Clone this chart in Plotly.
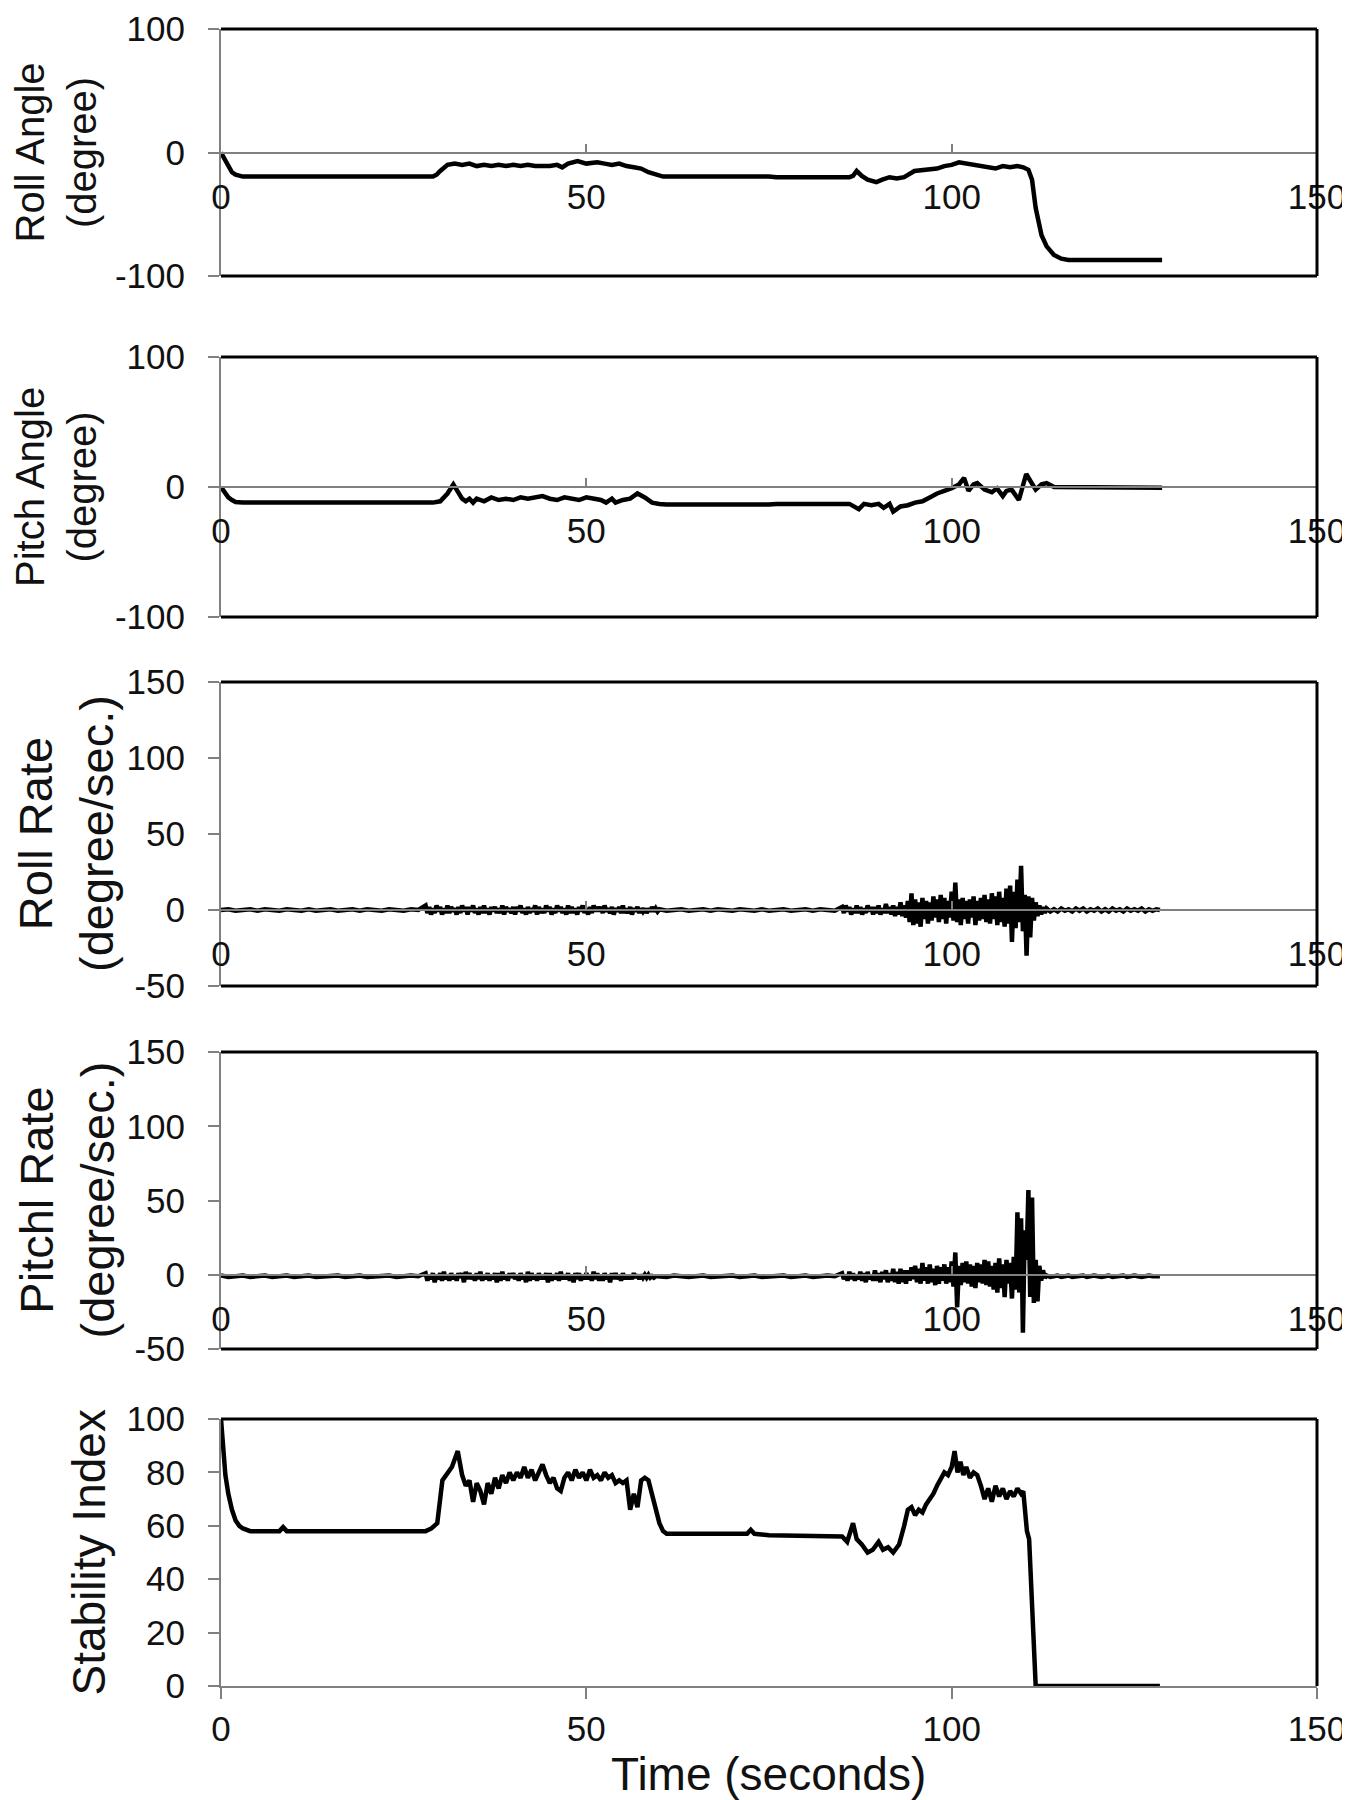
import plotly.graph_objects as go

# ---- values ----

# Roll angle (degree)
roll_t = [0, 0.5, 1, 1.5, 2, 2.5, 3, 29, 29.5, 30, 30.5, 31, 32, 33, 34, 35, 36, 37, 38, 39,
          40, 41, 42, 43, 44, 45, 46, 46.7, 47.5, 48.8, 50, 51.5, 52.5, 53.5, 54.5, 55.5, 56.5,
          57.5, 58.5, 59.5, 60.5, 75, 76, 86, 86.5, 87, 87.7, 88.5, 89.7, 90.5, 91.5, 92.5,
          93.5, 94.9, 96, 97, 98, 99, 100, 101, 102, 103, 104, 105, 106, 107, 108, 109, 109.8,
          110.5, 111, 111.5, 112.3, 113, 114, 115, 116, 128.8]
roll_v = [0, -6, -12, -16, -18, -19, -19.5, -19.5, -18, -15, -12, -10, -9, -10, -9, -11, -10, -11,
          -10, -11, -10, -11, -10, -11, -11, -11, -10, -12, -9, -7, -9, -8, -9, -10, -9, -11, -12,
          -13, -16, -18, -19.5, -19.5, -20, -20, -19, -15, -19, -22, -24, -22, -20, -21, -20, -15,
          -14, -13, -13, -11, -10, -8, -9, -10, -11, -12, -13, -11, -12, -11, -12, -14, -22, -45,
          -67, -76, -83, -86, -87, -87]

# Pitch angle (degree)
pitch_t = [0, 0.5, 1, 1.5, 2, 3, 29, 30, 31, 31.8, 32.5, 33, 33.5, 34, 34.5, 35, 36, 37, 38, 39,
           40, 41, 42, 43, 44, 45, 46, 47, 48, 49, 50, 51, 52, 52.7, 53.5, 54, 55, 56, 57, 58,
           59, 60, 61, 75, 76, 86, 87.3, 88, 89, 90, 90.7, 91.5, 92, 93, 94, 95, 96, 97, 98, 99,
           100, 101, 101.7, 102.3, 103, 103.5, 104.5, 105.5, 106.2, 107, 107.5, 108.2, 109.2,
           110.2, 110.8, 111.5, 112.3, 113, 114, 128.8]
pitch_v = [0, -4, -8, -10, -11.5, -12, -12, -11, -5, 2, -4, -9, -11, -9, -12, -9, -11, -8, -10,
           -9, -10, -8, -9, -8, -7, -9, -10, -8, -9, -10, -8, -9, -10, -12, -9, -12, -10, -9, -5,
           -8, -12, -13, -13.5, -13.5, -13, -13, -17, -13, -14, -13, -16, -13, -19, -15, -14,
           -12, -11, -8, -5, -3, -1, 2, 7, -3, 2, 3, -2, -4, -1, -7, -3, -2, -10, 10, 4, -2, 2, 3,
           0, -0.5, -0.5]


# Roll rate and pitch rate (degree/sec.) sampled on a common time grid
def grid(start, step, n):
    return [round(start + step * i, 2) for i in range(n)]


rate_t = (grid(0, 1, 28) + grid(28, 0.25, 128) + grid(60, 1, 25) + grid(85, 0.25, 36)
          + grid(94, 0.25, 76) + grid(113, 0.5, 32))

roll_rate_v = (
    # 0 - 27 s
    [0, 0.5, -0.5, 0, 0.5, -0.5, 0.5, 0, -0.5, 0.5, 0, -0.5, 0.5, -0.5, 0, 0.5, -0.5, 0, 0.5,
     -0.5, 0.5, 0, -0.5, 0.5, 0, -0.5, 0.5, 0]
    # 28 - 59.75 s
    + [3, -2, 2, -3, 1, -2, 3, -1,
       2, -3, 1, -2, 3, -2, 2, -1,
       1, -3, 2, -2, 3, -1, 2, -3,
       2, -1, 3, -2, 1, -3, 2, -2,
       3, -2, 1, -3, 2, -1, 2, -2,
       1, -2, 3, -3, 2, -1, 1, -2,
       2, -3, 2, -1, 3, -2, 1, -3,
       2, -2, 1, -1, 3, -3, 2, -2,
       1, -2, 3, -1, 2, -3, 1, -2,
       3, -1, 2, -2, 1, -3, 3, -2,
       2, -2, 1, -3, 2, -1, 3, -2,
       1, -3, 2, -2, 3, -1, 2, -1,
       2, -2, 3, -1, 1, -2, 2, -3,
       1, -1, 2, -2, 3, -2, 1, -2,
       2, -3, 1, -1, 2, -2, 1, -1,
       1, -2, 1, -1, 2, -1, 1, -1]
    # 60 - 84 s
    + [0.5, -0.5, 0, 0.5, -0.5, 0, 0.5, -0.5, 0.5, 0, -0.5, 0.5, 0, -0.5, 0.5, -0.5, 0, 0.5,
       -0.5, 0, 0.5, -0.5, 0.5, 0, -0.5]
    # 85 - 93.75 s
    + [2, -2, 3, -1, 2, -3, 1, -2, 3, -2, 2, -3, 1, -2, 3, -1, 2, -3, 2, -2, 3, -3, 1, -2,
       4, -2, 2, -3, 3, -4, 2, -3, 5, -4, 3, -5]
    # 94 - 112.75 s
    + [6, -8, 11, -10,
       7, -9, 5, -11,
       8, -6, 6, -9,
       5, -7, 9, -5,
       7, -8, 10, -6,
       8, -9, 6, -5,
       12, -7, 18, -8,
       7, -10, 8, -6,
       6, -9, 7, -5,
       9, -10, 6, -7,
       8, -6, 10, -8,
       7, -9, 11, -6,
       9, -10, 12, -8,
       8, -11, 14, -9,
       16, -21, 12, -12,
       20, -8, 29, -14,
       10, -30, 9, -18,
       8, -7, 5, -4,
       3, -3, 2, -2]
    # 113 - 128.5 s
    + [1, -1, 0.5, -1, 1, -0.5, 0.5, -1, 1, -0.5, 1, -1, 0.5, -0.5, 1, -1,
       0.5, -1, 1, -0.5, 0.5, -1, 1, -0.5, 0.5, -0.5, 1, -1, 0.5, -0.5, 0.5, 0]
)

pitch_rate_v = (
    [-0.5, -1.5, -1, -0.5, -1.5, -1, -0.5, -1.5, -1, -0.5, -1.5, -1, -0.5, -1.5, -1, -1, -0.5,
     -1.5, -1, -0.5, -1.5, -1, -1, -0.5, -1.5, -1, -0.5, -1]
    + [1, -4, 0, -3, 1, -5, 0, -3,
       1, -4, 2, -3, 0, -4, 1, -3,
       0, -4, 1, -2, 1, -5, 2, -3,
       1, -3, 0, -4, 1, -3, 2, -4,
       0, -3, 1, -4, 0, -3, 1, -5,
       1, -4, 2, -3, 0, -4, 1, -2,
       1, -3, 0, -4, 1, -3, 0, -5,
       2, -4, 1, -3, 0, -4, 1, -3,
       0, -3, 1, -5, 1, -4, 0, -3,
       1, -4, 2, -3, 0, -3, 1, -4,
       0, -5, 1, -3, 1, -4, 0, -3,
       1, -3, 0, -4, 2, -3, 1, -4,
       0, -4, 1, -3, 0, -5, 1, -3,
       1, -3, 0, -4, 1, -3, 0, -3,
       0, -3, 1, -2, 0, -3, 0, -2,
       0, -2, 0, -2, -1, -2, -1, -1]
    + [-1, -1.5, -0.5, -1, -1.5, -1, -0.5, -1.5, -1, -1, -0.5, -1.5, -1, -0.5, -1.5, -1, -1,
       -0.5, -1.5, -1, -0.5, -1.5, -1, -0.5, -1]
    + [1, -3, 0, -4, 2, -3, 1, -4, 0, -3, 2, -4, 1, -5, 2, -3, 0, -4, 3, -4, 1, -5, 2, -3,
       3, -5, 1, -4, 4, -5, 2, -6, 4, -5, 3, -6]
    + [3, -4, 5, -3,
       6, -5, 4, -6,
       8, -4, 5, -6,
       7, -5, 4, -7,
       6, -6, 5, -4,
       7, -6, 5, -5,
       9, -8, 15, -22,
       6, -7, 8, -5,
       9, -6, 7, -8,
       6, -9, 8, -5,
       7, -6, 10, -7,
       9, -8, 6, -10,
       8, -12, 11, -9,
       7, -15, 10, -6,
       8, -16, 12, -10,
       42, -12, 38, -39,
       30, 10, 57, -15,
       52, -19, 10, -18,
       6, -4, 3, -2]
    + [-0.5, -1.5, -1, -0.5, -1.5, -1, -0.5, -1.5, -1, -1, -0.5, -1.5, -1, -0.5, -1, -1.5,
       -1, -0.5, -1.5, -1, -1, -0.5, -1.5, -1, -0.5, -1, -1.5, -1, -0.5, -1, -1, -1]
)

# Stability index
stab_t = [0, 0.3, 0.6, 1, 1.5, 2, 2.5, 3, 4, 8, 8.5, 9, 28, 28.8, 29.6, 30.3, 31, 31.6, 32.4, 33,
          33.5, 34, 34.5, 35, 35.5, 36, 36.5, 37, 37.5, 38, 38.5, 39, 39.5, 40, 40.5, 41, 41.5,
          42, 42.5, 43, 43.5, 44, 44.5, 45, 45.5, 46, 46.5, 47, 47.5, 48, 48.5, 49, 49.5, 50,
          50.5, 51, 51.5, 52, 52.5, 53, 53.5, 54, 54.5, 55, 55.5, 56, 56.5, 57, 57.5, 58, 58.5,
          59, 59.5, 60, 60.5, 61, 72, 72.5, 73, 75, 85, 85.7, 86.5, 87, 87.7, 88.5, 89.2, 90,
          90.6, 91.3, 92, 92.8, 93.5, 94, 94.5, 95, 95.5, 96, 96.5, 97, 97.5, 98, 98.5, 99, 99.5,
          100, 100.4, 100.8, 101.2, 101.6, 102, 102.5, 103, 103.5, 104, 104.5, 105, 105.5, 106,
          106.5, 107, 107.5, 108, 108.5, 109, 109.5, 109.8, 110.3, 110.6, 111.5, 128.5]
stab_v = [100, 88, 79, 72, 66, 62, 60, 59, 58, 58, 59.5, 58, 58, 59, 61, 77, 80, 82, 88, 79,
          75, 77, 69, 76, 73, 68, 76, 72, 78, 74, 79, 76, 80, 77, 80, 78, 82, 78, 81, 77, 80, 83,
          79, 76, 78, 74, 73, 78, 80, 77, 81, 78, 80, 77, 81, 78, 79, 77, 80, 78, 79, 76, 77, 76,
          77, 66, 72, 67, 77, 78, 77, 72, 66, 61, 58, 57, 57, 58.5, 57, 56.5, 56, 54, 61, 55, 53,
          50, 51, 54, 51, 52, 50, 53, 60, 66, 67, 64, 66, 65, 68, 70, 72, 75, 78, 80, 79, 82, 88,
          80, 84, 79, 82, 78, 80, 79, 75, 70, 74, 69, 75, 71, 74, 70, 73, 71, 74, 72, 73, 58, 55,
          0, 0]

# ---- layout ----
# positions are given in page pixels; the page body adds an 8 px margin round the figure
OFF = 8
W, H = 1350 - OFF, 1800 - OFF
FONT = "Liberation Sans, Arial, sans-serif"
GREY = "#808080"
INK = "#111111"


def fx(px):
    return (px - OFF) / W


def fy(py):
    return 1 - (py - OFF) / H


panels = [
    dict(t=roll_t, v=roll_v, rng=[-100, 100], ticks=[-100, 0, 100],
         title="Roll Angle<br>(degree)", tsize=40, tx=56, px=(29, 276)),
    dict(t=pitch_t, v=pitch_v, rng=[-100, 100], ticks=[-100, 0, 100],
         title="Pitch Angle<br>(degree)", tsize=40, tx=56, px=(357, 617)),
    dict(t=rate_t, v=roll_rate_v, rng=[-50, 150], ticks=[-50, 0, 50, 100, 150],
         title="Roll Rate<br>(degree/sec.)", tsize=47, tx=66, px=(682, 986)),
    dict(t=rate_t, v=pitch_rate_v, rng=[-50, 150], ticks=[-50, 0, 50, 100, 150],
         title="Pitchl Rate<br>(degree/sec.)", tsize=47, tx=66, px=(1052, 1349)),
    dict(t=stab_t, v=stab_v, rng=[0, 100], ticks=[0, 20, 40, 60, 80, 100],
         title="Stability Index", tsize=46, tx=88, px=(1419, 1686)),
]

fig = go.Figure()
xdom = [fx(221), fx(1317)]
layout = dict(width=W, height=H, margin=dict(l=0, r=0, t=0, b=0, autoexpand=False),
              paper_bgcolor="white", plot_bgcolor="white", showlegend=False,
              font=dict(family=FONT, color=INK))
shapes, annotations = [], []
xticks = [0, 50, 100, 150]

for i, p in enumerate(panels):
    n = "" if i == 0 else str(i + 1)
    top, bot = p["px"]
    ydom = [fy(bot), fy(top)]
    fig.add_trace(go.Scatter(x=p["t"], y=p["v"], mode="lines",
                             line=dict(color="black", width=4.5),
                             xaxis="x" + n, yaxis="y" + n))
    last = i == len(panels) - 1
    xa = dict(domain=xdom, range=[0, 150], tickvals=xticks, ticktext=[str(v) for v in xticks],
              automargin=False, ticklabeloverflow="allow", showgrid=False, zeroline=False,
              showline=True, linecolor=GREY, linewidth=2, tickcolor=GREY, tickwidth=2,
              tickfont=dict(size=35, family=FONT, color=INK))
    if last:
        xa.update(anchor="y" + n, ticks="outside", ticklen=11, ticklabelstandoff=0)
    else:
        r0, r1 = p["rng"]
        zero = ydom[0] + (0 - r0) / (r1 - r0) * (ydom[1] - ydom[0])
        xa.update(anchor="free", position=zero, ticks="inside", ticklen=8,
                  ticklabelstandoff=13)
    ya = dict(domain=ydom, range=p["rng"], tickvals=p["ticks"],
              ticktext=[str(v) for v in p["ticks"]], anchor="x" + n, automargin=False,
              ticklabeloverflow="allow", showgrid=False, zeroline=False, showline=True,
              linecolor=GREY, linewidth=2, ticks="outside", ticklen=11, tickcolor=GREY,
              tickwidth=2, ticklabelstandoff=16, tickfont=dict(size=35, family=FONT, color=INK))
    layout["xaxis" + n] = xa
    layout["yaxis" + n] = ya

    # black frame: top, right and (for the upper panels) bottom edges
    edges = [(0, 1, 1, 1), (1, 0, 1, 1)]
    if not last:
        edges.append((0, 0, 1, 0))
    for x0, y0, x1, y1 in edges:
        shapes.append(dict(type="line", xref="x" + n + " domain", yref="y" + n + " domain",
                           x0=x0, y0=y0, x1=x1, y1=y1, line=dict(color="black", width=3)))

    annotations.append(dict(text=p["title"], textangle=-90, xref="paper", yref="paper",
                            x=fx(p["tx"]), y=(ydom[0] + ydom[1]) / 2, xanchor="center",
                            yanchor="middle", showarrow=False,
                            font=dict(size=p["tsize"], family=FONT, color=INK)))

annotations.append(dict(text="Time (seconds)", xref="paper", yref="paper",
                        x=(xdom[0] + xdom[1]) / 2, y=fy(1774), xanchor="center",
                        yanchor="middle", showarrow=False,
                        font=dict(size=46, family=FONT, color=INK)))

layout["shapes"] = shapes
layout["annotations"] = annotations
fig.update_layout(**layout)

fig.write_html("out.html")
